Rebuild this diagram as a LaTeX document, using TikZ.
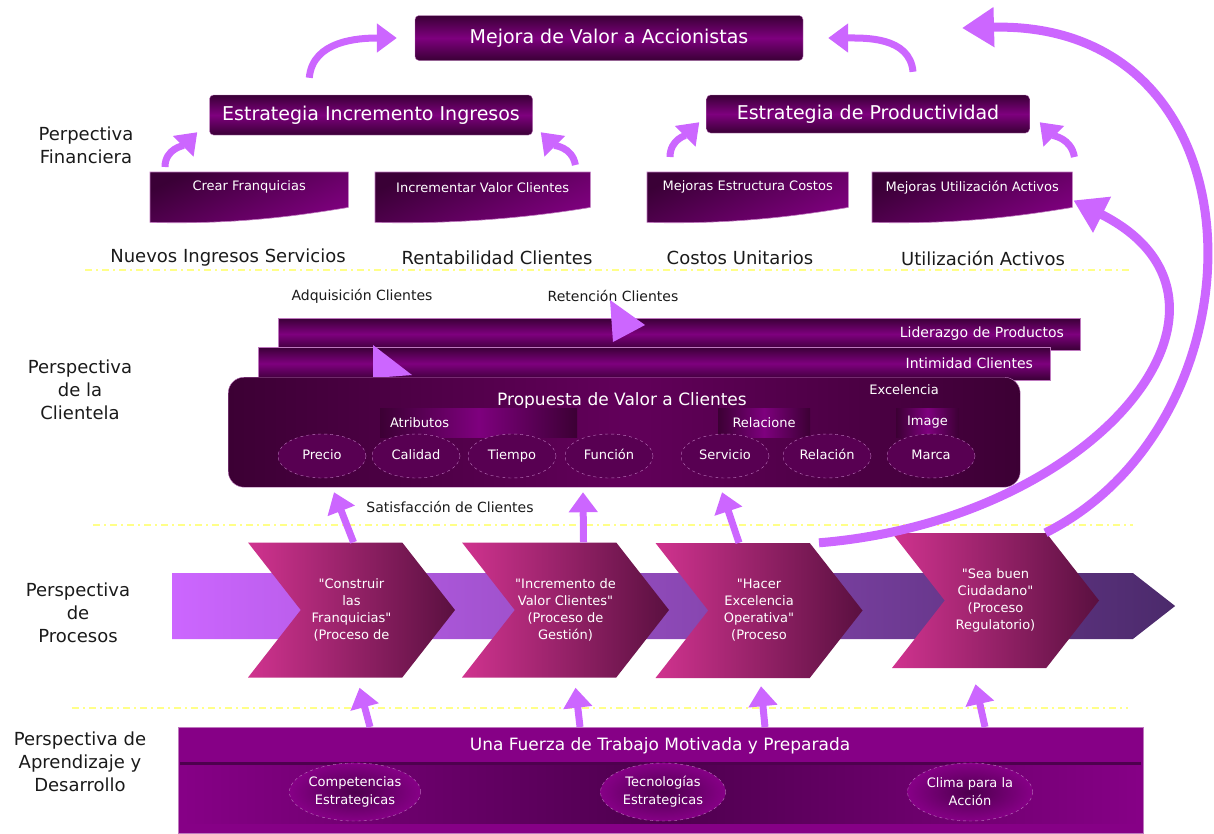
\documentclass[tikz,border=0pt]{standalone}
\usepackage{fontspec}
\setmainfont{DejaVu Sans}
\usepackage{tikz}
\usetikzlibrary{calc,positioning,backgrounds,shapes,arrows.meta}
\definecolor{pdeep}{RGB}{58,0,54}
\definecolor{pmid}{RGB}{126,0,126}
\definecolor{pedge}{RGB}{190,120,190}
\definecolor{plight}{RGB}{204,102,255}
\definecolor{cdark}{RGB}{60,0,52}
\definecolor{cmid}{RGB}{98,0,90}
\definecolor{cell}{RGB}{88,0,82}
\definecolor{chpink}{RGB}{208,51,143}
\definecolor{chdark}{RGB}{90,16,64}
\definecolor{banddark}{RGB}{75,42,107}
\definecolor{lmain}{RGB}{134,0,134}
\definecolor{ldark}{RGB}{78,0,78}
\definecolor{yell}{RGB}{255,255,136}
\definecolor{txt}{RGB}{26,26,26}

\begin{document}
\begin{tikzpicture}[x=1pt,y=1pt,
        lbl/.style={font=\fontsize{18}{23}\selectfont,text=txt,align=center},
        tag/.style={font=\fontsize{14}{17}\selectfont,text=txt},
        ttl/.style={font=\fontsize{19}{23}\selectfont,text=white,draw=pedge,rounded corners=4pt,top color=pdeep,bottom color=pdeep,middle color=pmid,inner sep=0},
        fin/.style={anchor=north west,minimum height=30,inner sep=0,font=\fontsize{13}{16}\selectfont,text=white},
        bar/.style={font=\fontsize{14}{17}\selectfont,text=white,draw=pedge,top color=pdeep,bottom color=pdeep,middle color=pmid,inner ysep=0,align=right},
        subbox/.style={font=\fontsize{13}{16}\selectfont,text=white,left color=cdark,right color=cdark,middle color=pmid,minimum height=29,inner ysep=0},
        ell/.style={ellipse,minimum width=88,minimum height=44,inner sep=0,draw=pedge,dashed,fill=cell,font=\fontsize{13}{16}\selectfont,text=white,text height=9pt,text depth=2pt},
        chev/.style={signal,signal from=west,signal to=east,signal pointer angle=104,minimum width=207,minimum height=135,inner sep=0,left color=chpink,right color=chdark,text=white,align=center,font=\fontsize{13}{17}\selectfont},
        lell/.style={ellipse,minimum width=125,minimum height=58,inner sep=0,draw=pedge,dashed,inner color=ldark,outer color=lmain,text=white,align=center,font=\fontsize{13}{18}\selectfont},
        divider/.style={draw=yell,line width=1.2pt,dash pattern=on 7pt off 4pt on 2pt off 4pt},
        farrow/.style={draw=plight,line width=7pt,-{Triangle[width=28pt,length=20pt]}},
        bigarc/.style={draw=plight,line width=9pt,-{Triangle[width=38pt,length=32pt]}}]
        \useasboundingbox (0,0) rectangle (1214,-833);
        \begin{scope}
            \node[ttl,minimum width=388,minimum height=45] (mejora) at (609,-38) {Mejora de Valor a Accionistas};
            \node[ttl,minimum width=323,minimum height=40] (ingr) at (371,-115) {Estrategia Incremento Ingresos};
            \node[ttl,minimum width=323,minimum height=38] (prod) at (868,-114) {Estrategia de Productividad};
            \node[fin,minimum width=198] (crear) at (150,-172) {Crear Franquicias};
            \node[fin,minimum width=215] (incval) at (375,-172) {Incrementar Valor Clientes};
            \node[fin,minimum width=201] (mcost) at (647,-172) {Mejoras Estructura Costos};
            \node[fin,minimum width=200] (mact) at (872,-172) {Mejoras Utilización Activos};
            \begin{scope}[on background layer]
                \foreach \b in {crear,incval,mcost,mact}
                    \shadedraw[draw=pedge,line width=.6pt,top color=pdeep,bottom color=pmid,shading angle=25]
                        (\b.north west) -- (\b.north east) -- ([yshift=-5pt]\b.south east)
                        .. controls +(-60,-10) and +(80,-2) .. ([yshift=-20pt]\b.south west) -- cycle;
            \end{scope}
            \node[lbl] (finl) at (86,-145) {Perpectiva\\Financiera};
            \node[lbl] (nis) at (228,-258) {Nuevos Ingresos Servicios};
            \node[lbl] (rent) at (497,-258) {Rentabilidad Clientes};
            \node[lbl] (costu) at (740,-258) {Costos Unitarios};
            \node[lbl] (util) at (983,-258) {Utilización Activos};
        \end{scope}
        \draw[farrow] ([xshift=100pt,yshift=17pt]ingr.north west) to[out=85,in=180] ([xshift=-18pt]mejora.west);
        \draw[farrow] ([xshift=45pt,yshift=23pt]prod.north) to[out=95,in=0] ([xshift=25pt]mejora.east);
        \draw[farrow] ([xshift=15pt,yshift=5pt]crear.north west) to[out=90,in=225] ([xshift=-12pt,yshift=3pt]ingr.south west);
        \draw[farrow] ([xshift=-15pt,yshift=7pt]incval.north east) to[out=100,in=-45] ([xshift=8pt,yshift=3pt]ingr.south east);
        \draw[farrow] ([xshift=23pt,yshift=15pt]mcost.north west) to[out=90,in=225] ([xshift=-7pt,yshift=11pt]prod.south west);
        \draw[farrow] ([xshift=2pt,yshift=15pt]mact.north east) to[out=100,in=-45] ([xshift=10pt,yshift=11pt]prod.south east);
        \draw[divider] (85,-270) -- (1130,-270);
        \draw[divider] (93,-525) -- (1133,-525);
        \draw[divider] (72,-708) -- (1128,-708);
        \begin{scope}
            \node[tag] (adq) at (362,-296) {Adquisición Clientes};
            \node[tag] (ret) at (613,-296) {Retención Clientes};
            \node[bar,minimum width=802,minimum height=32,text width=770,inner xsep=16] (lider) at (679,-334) {Liderazgo de Productos};
            \node[bar,minimum width=792,minimum height=33,text width=758,inner xsep=17] (intim) at (654,-363.5) {Intimidad Clientes};
            \fill[plight] (610,-300) -- (645,-325) -- (613,-342) -- cycle;
            \fill[plight] (373,-345) -- (412,-375) -- (373,-378) -- cycle;
            \node[anchor=north west,minimum width=792,minimum height=110,rounded corners=16pt,draw=pedge,left color=cdark,right color=cdark,middle color=cmid] (prop) at (228,-377) {};
            \node[font=\fontsize{17}{20}\selectfont,text=white] (propt) at (622,-401) {Propuesta de Valor a Clientes};
            \node[subbox,minimum width=197,text width=177,inner xsep=10,align=left] (atrib) at (478.5,-422.5) {Atributos};
            \node[subbox,minimum width=92] (relac) at (764,-422.5) {Relacione};
            \node[subbox,minimum width=63] (imag) at (927.5,-422.5) {Image};
            \node[font=\fontsize{13}{16}\selectfont,text=white] (exc) at (904,-390) {Excelencia};
            \node[ell] (precio) at (322,-456) {Precio};
            \node[ell] (calid) at (416,-456) {Calidad};
            \node[ell] (tiempo) at (512,-456) {Tiempo};
            \node[ell] (func) at (609,-456) {Función};
            \node[ell] (serv) at (725,-456) {Servicio};
            \node[ell] (relcn) at (827,-456) {Relación};
            \node[ell] (marca) at (931,-456) {Marca};
            \node[tag] (sat) at (450,-507) {Satisfacción de Clientes};
            \node[lbl] (clil) at (80,-390) {Perspectiva\\de la\\Clientela};
        \end{scope}
        \begin{scope}
            \node[signal,signal to=east,signal pointer angle=76,minimum width=1003,minimum height=66,inner sep=0,left color=plight,right color=banddark] (band) at (652.5,-606) {};
            \node[chev] (proc1) at (351.5,-610) {\textquotedbl Construir\\las\\Franquicias\textquotedbl\\(Proceso de};
            \node[chev] (proc2) at (565.5,-610) {\textquotedbl Incremento de\\Valor Clientes\textquotedbl\\(Proceso de\\Gestión)};
            \node[chev] (proc3) at (759,-610.5) {\textquotedbl Hacer\\Excelencia\\Operativa\textquotedbl\\(Proceso};
            \node[chev] (proc4) at (995.5,-600.5) {\textquotedbl Sea buen\\Ciudadano\textquotedbl\\(Proceso\\Regulatorio)};
            \node[lbl] (procl) at (78,-613) {Perspectiva\\de\\Procesos};
        \end{scope}
        \draw[farrow] ([xshift=2pt]proc1.north) -- ([xshift=12pt,yshift=-14pt]precio.south);
        \draw[farrow] ([xshift=18pt]proc2.north) -- ([xshift=-26pt,yshift=-14pt]func.south);
        \draw[farrow] ([xshift=-20pt]proc3.north) -- ([xshift=-3pt,yshift=-14pt]serv.south);
        \begin{scope}
            \node[anchor=north west,minimum width=965,minimum height=106,inner sep=0,fill=lmain,draw=pedge] (learn) at (178,-727) {};
            \shade[left color=lmain,right color=lmain,middle color=ldark] ([shift={(4,-38)}]learn.north west) rectangle ([shift={(-4,-96)}]learn.north east);
            \draw[ldark,line width=3pt] ([shift={(2,-36)}]learn.north west) -- ([shift={(-2,-36)}]learn.north east);
            \node[font=\fontsize{17}{20}\selectfont,text=white] (learnt) at (660,-746) {Una Fuerza de Trabajo Motivada y Preparada};
            \node[lell] (comp) at (355,-792) {Competencias\\Estrategicas};
            \node[lell] (tec) at (663,-792) {Tecnologías\\Estrategicas};
            \node[lell] (clima) at (970,-792) {Clima para la\\Acción};
            \node[lbl] (aprl) at (80,-762) {Perspectiva de\\Aprendizaje y\\Desarrollo};
        \end{scope}
        \draw[farrow] ([xshift=192pt]learn.north west) -- ([xshift=8pt,yshift=-10pt]proc1.south);
        \draw[farrow] ([xshift=402pt]learn.north west) -- ([xshift=10pt,yshift=-10pt]proc2.south);
        \draw[farrow] ([xshift=587pt]learn.north west) -- ([xshift=2pt,yshift=-8pt]proc3.south);
        \draw[farrow] ([xshift=807pt]learn.north west) -- ([xshift=-20pt,yshift=-16pt]proc4.south);
        \coordinate (arctip) at (962,-28);
        \draw[bigarc] ([xshift=60pt]proc3.north) .. controls +(281,23) and +(200,-100) .. ([shift={(1pt,2pt)}]mact.south east);
        \draw[bigarc] ([xshift=50pt]proc4.north) .. controls +(225,113) and +(308,8) .. (arctip);
    \end{tikzpicture}
\end{document}
